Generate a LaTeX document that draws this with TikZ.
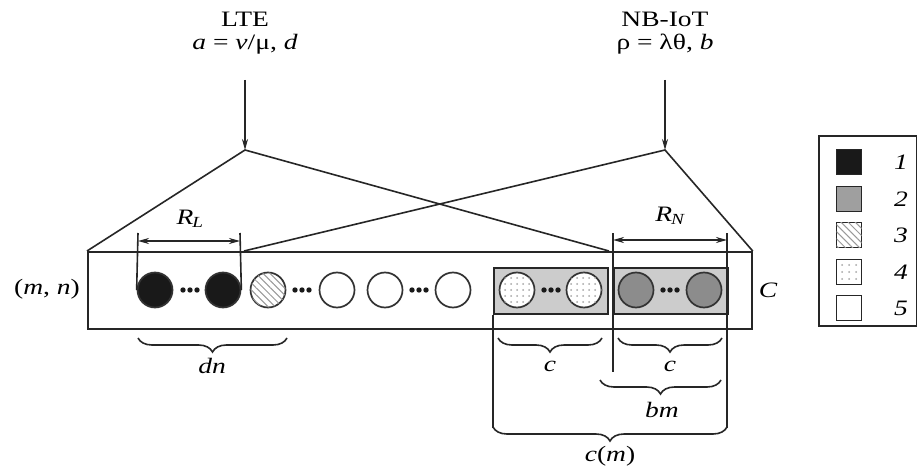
\documentclass[tikz,border=0pt]{standalone}
\usepackage{fontspec}
\setmainfont{Liberation Serif}[FakeStretch=1.25]
\usetikzlibrary{decorations.pathreplacing,patterns.meta,arrows.meta}
\tikzset{
  ln/.style={line width=1.6pt, draw=black!85},
  ball/.style={circle, minimum size=35pt, inner sep=0pt, line width=1.7pt, draw=black!80},
  blackball/.style={ball, fill=black!90},
  grayball/.style={ball, fill=gray!90},
  whiteball/.style={ball, fill=white},
  hatchball/.style={ball, fill=white, postaction={pattern={Lines[angle=-45,distance=5pt,line width=1pt]}, pattern color=gray!80}},
  dotball/.style={ball, fill=white, postaction={pattern={Dots[distance=6pt,radius=1pt,xshift=1pt]}, pattern color=gray!70}},
  graybox/.style={draw=black!85, line width=1.6pt, fill=gray!40},
  brc/.style={ln, decorate, decoration={brace, mirror, amplitude=14pt, raise=0pt}},
  lbl/.style={font=\fontsize{22}{25}\selectfont, inner sep=1pt},
  ilbl/.style={lbl, font=\fontsize{22}{25}\selectfont\itshape},
  leg/.style={draw=black!85, line width=1.6pt, minimum size=25pt, inner sep=0pt},
  stl/.tip={Stealth[length=11pt,width=6pt]},
  arr/.style={ln, -stl},
  dim/.style={ln, stl-stl},
}
\newcommand{\tdots}[1]{\foreach \dx in {-7,0,7} {\fill[black!90] (#1+\dx,290) circle (2.7);}}
\begin{document}
\begin{tikzpicture}[x=1pt,y=-1pt]
\useasboundingbox[fill=white] (0,0) rectangle (917,470);

% titles
\node[lbl] (lte) at (245,19) {LTE};
\node[lbl] (ltep) at (245,44) {\textit{a} = \textit{v}/μ, \textit{d}};
\node[lbl] (nb) at (665,19) {NB-IoT};
\node[lbl] (nbp) at (665,44) {ρ = λθ, \textit{b}};

\coordinate (al) at (245,150);
\coordinate (an) at (665,150);
\draw[arr] (245,80) -- (al);
\draw[arr] (665,80) -- (an);

% main rectangle
\node[draw=black!85, line width=1.7pt, minimum width=664pt, minimum height=77pt, inner sep=0pt, anchor=north west] (main) at (87,251) {};

\coordinate (lend) at (609,251);
\coordinate (nend) at (244,251);
\draw[ln] (main.north west) -- (al) -- (lend);
\draw[ln] (nend) -- (an) -- (main.north east);

% gray boxes
\node[graybox, minimum width=114pt, minimum height=46pt, inner sep=0pt, anchor=north west] (gb1) at (493,267) {};
\node[graybox, minimum width=114pt, minimum height=46pt, inner sep=0pt, anchor=north west] (gb2) at (613,267) {};

% balls
\node[blackball] (l1) at (155,290) {};
\node[blackball] (l2) at (223,290) {};
\node[hatchball] (h) at (268,290) {};
\node[whiteball] (w1) at (337,290) {};
\node[whiteball] (w2) at (385,290) {};
\node[whiteball] (w3) at (453,290) {};
\node[dotball] (p1) at (517,290) {};
\node[dotball] (p2) at (584,290) {};
\node[grayball] (g1) at (636,290) {};
\node[grayball] (g2) at (704,290) {};
\tdots{190}
\tdots{302}
\tdots{419}
\tdots{551}
\tdots{670}

% R_L
\coordinate (rl1) at (138,233);
\coordinate (rl2) at (240,233);
\draw[ln] (rl1) -- (l1.west);
\draw[ln] (rl2) -- (l2.east);
\coordinate (rla) at (138,241);
\coordinate (rlb) at (240,241);
\draw[dim] (rla) -- (rlb);
\node[ilbl] (rl) at (190,219) {R\textsubscript{\kern-1ptL}};

% R_N
\coordinate (rn1) at (613,233);
\coordinate (rn2) at (727,233);
\coordinate (rn1b) at (613,372);
\coordinate (rn2b) at (727,428);
\draw[ln] (rn1) -- (rn1b);
\draw[ln] (rn2) -- (rn2b);
\coordinate (rna) at (613,240);
\coordinate (rnb) at (727,240);
\draw[dim] (rna) -- (rnb);
\node[ilbl] (rn) at (670,216) {R\textsubscript{\kern-1ptN}};

\coordinate (cml) at (493,428);
\draw[ln] (gb1.south west) -- (cml);

% braces
\draw[brc] (138,338) -- (287,338);
\node[ilbl] (dn) at (212,366) {dn};
\draw[brc] (498,338) -- (602,338);
\node[ilbl] (c1) at (550,366) {c};
\draw[brc] (618,338) -- (722,338);
\node[ilbl] (c2) at (670,366) {c};
\draw[brc] (600,380) -- (721,380);
\node[ilbl] (bm) at (662,410) {bm};
\draw[brc] (493,427) -- (727,427);
\node[lbl] (cm) at (610,456) {\textit{c}(\textit{m})};

\node[lbl] (mn) at (47,289) {(\textit{m}, \textit{n})};
\node[ilbl] (C) at (768,290) {C};

% legend
\node[draw=black!85, line width=1.6pt, minimum width=98pt, minimum height=190pt, inner sep=0pt, anchor=north west] (legend) at (818,135) {};
\node[leg, fill=black!90] (s1) at (849,162) {};
\node[leg, fill=gray!75] (s2) at (849,199) {};
\node[leg, fill=white, postaction={pattern={Lines[angle=-45,distance=5pt,line width=1pt]}, pattern color=gray!80}] (s3) at (849,235) {};
\node[leg, fill=white, postaction={pattern={Dots[distance=7pt,radius=1pt,xshift=2pt,yshift=2pt]}, pattern color=gray!70}] (s4) at (849,272) {};
\node[leg, fill=white] (s5) at (849,308) {};
\node[ilbl] (n1) at (901,162) {1};
\node[ilbl] (n2) at (901,199) {2};
\node[ilbl] (n3) at (901,235) {3};
\node[ilbl] (n4) at (901,272) {4};
\node[ilbl] (n5) at (901,308) {5};
\end{tikzpicture}
\end{document}
